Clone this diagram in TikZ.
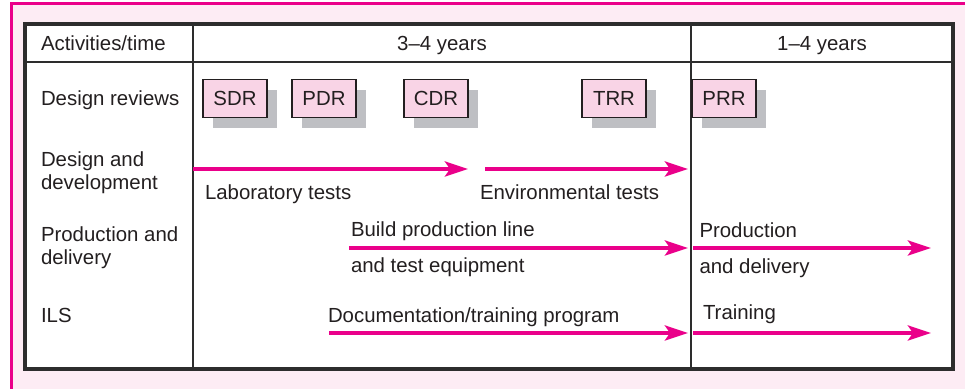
\documentclass[tikz,border=0pt]{standalone}
\usepackage{fontspec}
\setmainfont{Liberation Sans}
\usetikzlibrary{arrows.meta,shadows}

\definecolor{framepink}{RGB}{234,0,138}
\definecolor{bgpink}{RGB}{253,236,244}
\definecolor{boxpink}{RGB}{249,212,230}
\definecolor{shadowgray}{RGB}{190,191,195}
\definecolor{rulegray}{RGB}{45,45,45}
\definecolor{inkgray}{RGB}{35,31,32}

\begin{document}
\begin{tikzpicture}[x=0.5pt,y=-0.5pt]
\tikzset{ >={Stealth[length=11.5pt,width=7.5pt,inset=2.5pt]}, inner sep=0pt, outer sep=0pt,
  lbl/.style={anchor=base west, text=inkgray, font=\fontsize{10.2}{11.7}\selectfont},
  rowlbl/.style={lbl, align=left},
  headlbl/.style={lbl, anchor=base},
  revbox/.style={draw=inkgray, line width=0.6pt, fill=boxpink, minimum width=32pt,
    minimum height=19pt, text=inkgray, font=\fontsize{10.2}{11.7}\selectfont,
    drop shadow={shadow xshift=5pt, shadow yshift=-5.2pt, fill=shadowgray, opacity=1}},
  bar/.style={->, framepink, line width=2pt},
  rule/.style={rulegray, line width=1.4pt},
}

\useasboundingbox (0,0) rectangle (965,389);

% frame
\fill [white] (0,0) rectangle (965,389);
\fill [bgpink] (11.5,3.5) rectangle (965,389);
\draw [framepink, line width=1.2pt] (11.5,389) -- (11.5,3.5) -- (965,3.5);

% table
\coordinate (TL) at (25,24);
\coordinate (BR) at (953,369);
\coordinate (HL) at (25,62);
\coordinate (HR) at (953,62);
\coordinate (C1t) at (193,24);
\coordinate (C1b) at (193,369);
\coordinate (C2t) at (691,24);
\coordinate (C2b) at (691,369);

\fill [white] (TL) rectangle (BR);
\draw [rule] (HL) -- (HR);
\draw [rule] (C1t) -- (C1b);
\draw [rule] (C2t) -- (C2b);
\draw [rule, line width=1.6pt] (TL) rectangle (BR);

% row labels (base = last line)
\node [rowlbl] (act)  at (41,50.7)  {Activities/time};
\node [rowlbl] (rev)  at (41,106)   {Design reviews};
\node [rowlbl] (dev)  at (41,190)   {Design and\\development};
\node [rowlbl] (prod) at (41,265)   {Production and\\delivery};
\node [rowlbl] (ils)  at (41,323)   {ILS};

\node [headlbl] (span1) at (442,50.7) {3--4 years};
\node [headlbl] (span2) at (822,50.7) {1--4 years};

% design reviews
\node [revbox] (SDR) at (235,98.7) {SDR};
\node [revbox] (PDR) at (324,98.7) {PDR};
\node [revbox] (CDR) at (436,98.7) {CDR};
\node [revbox] (TRR) at (614,98.7) {TRR};
\node [revbox] (PRR) at (724,98.7) {PRR};

% bars
\coordinate (labS) at (193,169);   \coordinate (labE) at (468,169);
\coordinate (envS) at (485,169);   \coordinate (envE) at (688,169);
\coordinate (bldS) at (349,248);   \coordinate (bldE) at (688,248);
\coordinate (pdvS) at (693,248);   \coordinate (pdvE) at (931,248);
\coordinate (docS) at (329,333);   \coordinate (docE) at (688,333);
\coordinate (trnS) at (693,333);   \coordinate (trnE) at (931,333);

\draw [bar] (labS) -- (labE);
\draw [bar] (envS) -- (envE);
\draw [bar] (bldS) -- (bldE);
\draw [bar] (pdvS) -- (pdvE);
\draw [bar] (docS) -- (docE);
\draw [bar] (trnS) -- (trnE);

\node [lbl] (labT)  at (205,200)     {Laboratory tests};
\node [lbl] (envT)  at (480,200)     {Environmental tests};
\node [lbl] (bldT)  at (351,236.7)   {Build production line};
\node [lbl] (bldT2) at (351,272.7)   {and test equipment};
\node [lbl] (pdvT)  at (699.5,237.3) {Production};
\node [lbl] (pdvT2) at (699.5,273.3) {and delivery};
\node [lbl] (docT)  at (328,322.7)   {Documentation/training program};
\node [lbl] (trnT)  at (703,320)     {Training};
\end{tikzpicture}
\end{document}
